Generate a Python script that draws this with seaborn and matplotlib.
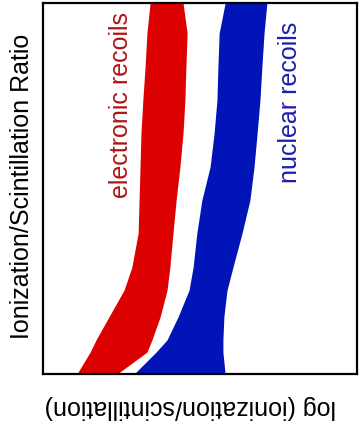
import pandas as pd
import matplotlib
matplotlib.use("Agg")
import matplotlib.pyplot as plt
import seaborn as sns

# vertical position (ionization/scintillation ratio, arbitrary units)
ratio_levels = [100.0, 91.9, 82.7, 73.9, 65.0, 55.8, 46.9, 38.0, 28.8, 22.6, 15.4, 9.2, 5.9, 0.0]

# band edges along the horizontal axis (log ionization/scintillation, arbitrary units)
electron_left = [34.1, 33.1, 32.5, 31.8, 31.2, 30.9, 30.6, 30.3, 28.3, 25.8, 21.0, 16.9, 15.0, 10.8]
electron_right = [44.6, 45.9, 45.5, 45.2, 44.6, 43.6, 42.4, 41.4, 40.4, 39.5, 37.3, 34.7, 33.1, 23.6]
nuclear_left = [58.0, 56.1, 55.7, 55.4, 54.5, 53.2, 50.6, 49.0, 47.8, 46.5, 43.0, 39.5, 36.0, 29.0]
nuclear_right = [71.3, 70.4, 69.7, 69.1, 68.2, 67.2, 65.9, 63.4, 60.5, 58.6, 57.6, 57.3, 57.3, 58.0]

bands = pd.DataFrame({
    "ratio": ratio_levels,
    "e_lo": electron_left, "e_hi": electron_right,
    "n_lo": nuclear_left, "n_hi": nuclear_right,
})

sns.set_theme(style="white")
plt.rcParams["font.family"] = ["Liberation Sans", "DejaVu Sans"]

fig = plt.figure(figsize=(3.6, 4.33), dpi=100)
ax = fig.add_axes([43 / 360, 59 / 433, 314 / 360, 371 / 433])

red = "#DD0000"
blue = "#0014B8"

ax.fill_betweenx(bands["ratio"], bands["e_lo"], bands["e_hi"], color=red, lw=0)
ax.fill_betweenx(bands["ratio"], bands["n_lo"], bands["n_hi"], color=blue, lw=0)

ax.text(24.8, 72.5, "electronic recoils", rotation=90, ha="center", va="center",
        fontsize=18, color="#B01515")
ax.text(78.7, 73.3, "nuclear recoils", rotation=90, ha="center", va="center",
        fontsize=18, color="#1E1EAA")

ax.set_xlim(0, 100)
ax.set_ylim(0, 100)
ax.set_xticks([])
ax.set_yticks([])

ax.set_ylabel("Ionization/Scintillation Ratio", fontsize=18, color="black",
              ha="center", va="center")
ax.yaxis.set_label_coords(-0.067, 0.507)
ax.set_xlabel("log (ionization/scintillation)", fontsize=18, color="black",
              rotation=180, ha="center", va="center")
ax.xaxis.set_label_coords(0.468, -0.089)

for side in ["left", "right", "top", "bottom"]:
    ax.spines[side].set_visible(True)
    ax.spines[side].set_color("black")
    ax.spines[side].set_linewidth(1.6)

fig.savefig("out.png", dpi=100, facecolor="white")
